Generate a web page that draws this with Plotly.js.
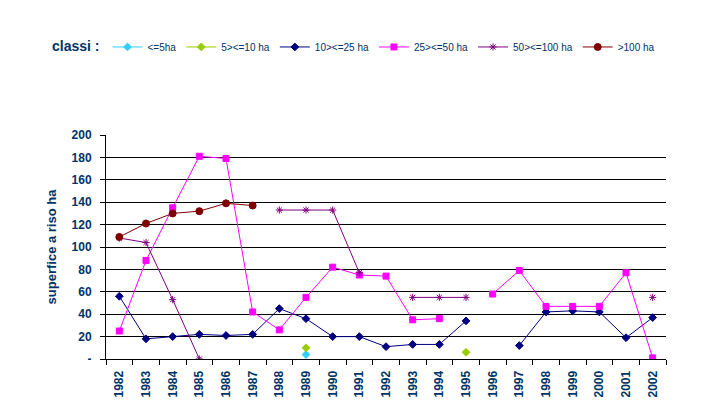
<!DOCTYPE html>
<html>
<head>
<meta charset="utf-8">
<script src="https://cdn.plot.ly/plotly-3.0.1.min.js"></script>
<style>html,body{margin:0;padding:0;background:#fff;}#chart{width:709px;height:414px;}</style>
</head>
<body>
<div id="chart"></div>
<script>
const years = ["1982","1983","1984","1985","1986","1987","1988","1989","1990","1991","1992","1993","1994","1995","1996","1997","1998","1999","2000","2001","2002"];
const le5 = [null,null,null,null,null,null,null,4,null,null,null,null,null,null,null,null,null,null,null,null,null];
const s5to10 = [null,null,null,null,null,null,null,10,null,null,null,null,null,6,null,null,null,null,null,null,null];
const s10to25 = [56,18,20,22,21,22,45,36,20,20,11,13,13,34,null,12,42,43,42,19,37];
const s25to50 = [25,88,135,181,179,42,26,55,82,75,74,35,36,null,58,79,47,47,47,77,1];
const s50to100 = [108,104,53,0,null,null,133,133,133,77,null,55,55,55,null,null,null,null,null,null,55];
const gt100 = [109,121,130,132,139,137,null,null,null,null,null,null,null,null,null,null,null,null,null,null,null];
const seriesNames = ["<=5ha","5><=10 ha","10><=25 ha","25><=50 ha","50><=100 ha",">100 ha"];
const yTickVals = [0,20,40,60,80,100,120,140,160,180,200];
const yTickText = ["-","20","40","60","80","100","120","140","160","180","200"];

const navyText = "#003366";
function tr(name, y, color, symbol, size) {
  return {x: years, y: y, name: name, type: "scatter", mode: "lines+markers",
    connectgaps: false, line: {color: color, width: 1},
    marker: {color: color, symbol: symbol, size: size, line: {color: color, width: 1}}};
}
const data = [
  tr(seriesNames[0], le5, "#33CCFF", "diamond", 6),
  tr(seriesNames[1], s5to10, "#99CC00", "diamond", 6),
  tr(seriesNames[2], s10to25, "#000080", "diamond", 6),
  tr(seriesNames[3], s25to50, "#FF00FF", "square", 6),
  tr(seriesNames[4], s50to100, "#800080", "asterisk-open", 6),
  tr(seriesNames[5], gt100, "#800000", "circle", 7)
];
const layout = {
  width: 709, height: 414,
  margin: {l: 106, r: 43, t: 135, b: 55},
  paper_bgcolor: "#fff", plot_bgcolor: "#fff",
  font: {family: "Liberation Sans, Arial, sans-serif", color: navyText},
  showlegend: true,
  legend: {orientation: "h", x: -0.1, xanchor: "left", y: 1.393, yanchor: "middle",
    font: {size: 10, color: navyText}, itemwidth: 30,
    title: {text: "<b>classi :</b>", side: "left", font: {size: 14, color: navyText}}},
  xaxis: {type: "category", categoryorder: "array", categoryarray: years,
    tickson: "boundaries", ticks: "outside", ticklen: 5, tickcolor: "#000",
    showline: true, linecolor: "#000", linewidth: 1, showgrid: false,
    tickangle: -90, ticklabelstandoff: 6, tickfont: {size: 12, color: navyText, weight: "bold"},
    range: [-0.5, 20.5], fixedrange: true},
  yaxis: {range: [0, 200], tickvals: yTickVals, ticktext: yTickText,
    ticks: "outside", ticklen: 5, tickcolor: "#000", ticklabelstandoff: 6,
    showline: true, linecolor: "#000", linewidth: 1,
    showgrid: true, gridcolor: "#000", gridwidth: 1, zeroline: false,
    tickfont: {size: 12, color: navyText, weight: "bold"},
    title: {text: "superfice a riso ha", font: {size: 13, color: navyText, weight: "bold"}, standoff: 12}}
};
Plotly.newPlot("chart", data, layout, {displayModeBar: false, staticPlot: true});
</script>
</body>
</html>
